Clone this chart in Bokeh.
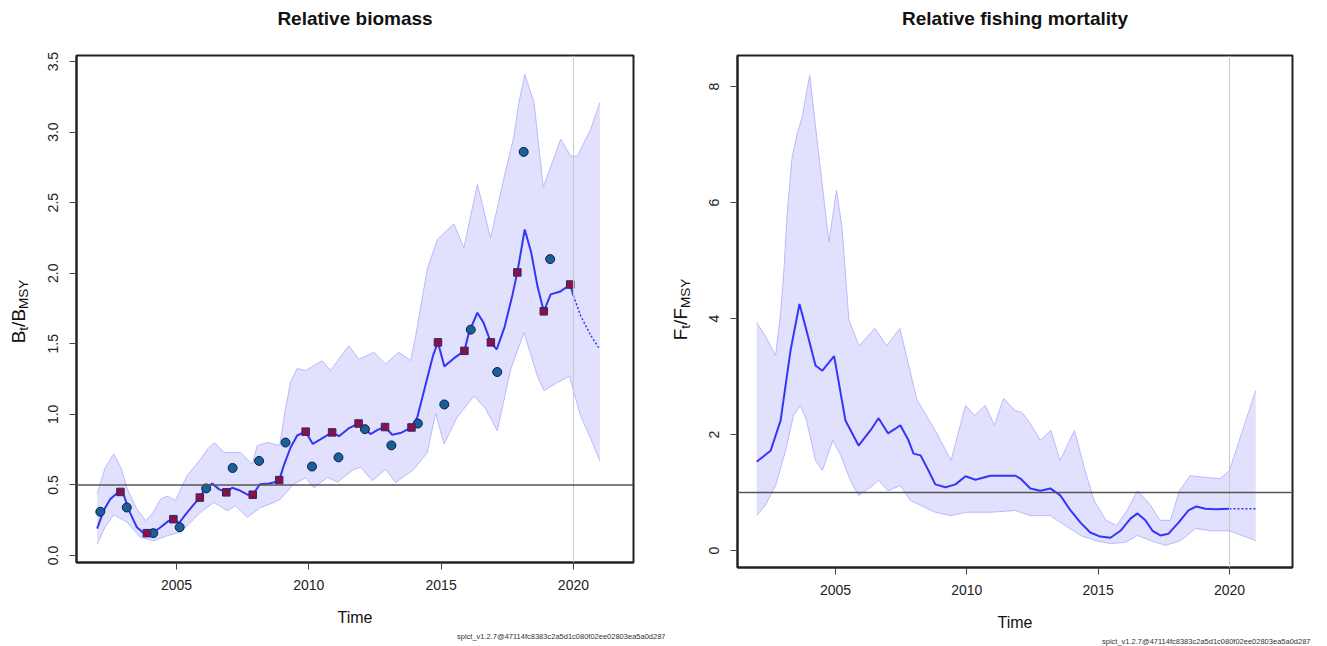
import math
from bokeh.plotting import figure
from bokeh.layouts import row, column
from bokeh.models import Range1d, FixedTicker, PrintfTickFormatter, Span, Title
from bokeh.core.properties import value
from bokeh.embed import file_html
from bokeh.resources import INLINE

FONT = "Liberation Sans"

# ---------------- data: relative biomass ----------------
bio_t = [2002.0, 2002.25, 2002.5, 2002.75, 2002.88, 2003.0, 2003.25, 2003.5, 2003.75, 2003.9,
         2004.1, 2004.4, 2004.7, 2004.9, 2005.1, 2005.3, 2005.6, 2005.88, 2006.1, 2006.35,
         2006.6, 2006.88, 2007.1, 2007.4, 2007.7, 2007.88, 2008.15, 2008.5, 2008.75, 2008.88,
         2009.06, 2009.31, 2009.56, 2009.88, 2010.15, 2010.5, 2010.88, 2011.14, 2011.5, 2011.88,
         2012.1, 2012.33, 2012.6, 2012.88, 2013.15, 2013.5, 2013.88, 2014.1, 2014.4, 2014.7,
         2014.88, 2015.12, 2015.5, 2015.88, 2016.05, 2016.37, 2016.6, 2016.88, 2017.1, 2017.4,
         2017.7, 2017.88, 2018.16, 2018.4, 2018.65, 2018.88, 2019.14, 2019.5, 2019.88, 2020.0]
bio_v = [0.19, 0.32, 0.40, 0.44, 0.45, 0.43, 0.30, 0.20, 0.16, 0.158,
         0.16, 0.20, 0.245, 0.257, 0.23, 0.28, 0.35, 0.41, 0.48, 0.51,
         0.47, 0.447, 0.48, 0.46, 0.43, 0.43, 0.505, 0.51, 0.52, 0.534,
         0.64, 0.765, 0.85, 0.877, 0.79, 0.83, 0.872, 0.845, 0.90, 0.935,
         0.90, 0.86, 0.89, 0.91, 0.855, 0.87, 0.907, 0.98, 1.20, 1.42,
         1.51, 1.34, 1.40, 1.45, 1.58, 1.72, 1.65, 1.51, 1.46, 1.62,
         1.85, 2.006, 2.31, 2.15, 1.90, 1.73, 1.85, 1.87, 1.92, 1.84]
bio_pred_t = [2020.0, 2020.27, 2020.65, 2021.0]
bio_pred_v = [1.84, 1.70, 1.56, 1.46]

bio_up_t = [2002.0, 2002.3, 2002.63, 2002.9, 2003.14, 2003.5, 2003.83, 2004.1, 2004.4, 2004.65,
            2004.96, 2005.4, 2005.9, 2006.2, 2006.44, 2006.79, 2007.1, 2007.42, 2007.86, 2008.05,
            2008.43, 2008.9, 2009.1, 2009.31, 2009.56, 2009.88, 2010.5, 2010.82, 2011.51, 2011.89,
            2012.46, 2012.9, 2013.4, 2013.85, 2014.04, 2014.48, 2014.86, 2015.48, 2015.86, 2016.37,
            2016.87, 2017.37, 2017.75, 2017.94, 2018.16, 2018.51, 2018.86, 2019.52, 2019.9, 2020.15,
            2020.65, 2021.0]
bio_up_v = [0.435, 0.62, 0.72, 0.62, 0.47, 0.33, 0.245, 0.30, 0.40, 0.42,
            0.39, 0.565, 0.68, 0.76, 0.80, 0.73, 0.73, 0.73, 0.647, 0.777,
            0.80, 0.78, 1.02, 1.23, 1.325, 1.31, 1.38, 1.31, 1.486, 1.39,
            1.44, 1.356, 1.44, 1.38, 1.557, 2.03, 2.24, 2.35, 2.18, 2.63,
            2.25, 2.67, 2.97, 3.21, 3.41, 3.21, 2.61, 2.95, 2.83, 2.83,
            3.02, 3.21]
bio_lo_t = [2002.0, 2002.3, 2002.63, 2003.14, 2003.64, 2004.14, 2004.65, 2005.09, 2005.4, 2005.9,
            2006.41, 2006.92, 2007.23, 2007.67, 2008.18, 2008.68, 2008.93, 2009.43, 2009.88, 2010.19,
            2010.7, 2011.08, 2011.7, 2011.96, 2012.4, 2012.9, 2013.28, 2013.97, 2014.48, 2014.79,
            2015.11, 2015.61, 2016.24, 2016.68, 2017.12, 2017.63, 2018.13, 2018.64, 2018.89, 2019.39,
            2019.85, 2020.27, 2020.65, 2021.0]
bio_lo_v = [0.08, 0.20, 0.29, 0.234, 0.128, 0.104, 0.14, 0.163, 0.21, 0.305,
            0.376, 0.317, 0.352, 0.27, 0.34, 0.376, 0.40, 0.505, 0.55, 0.48,
            0.553, 0.52, 0.61, 0.624, 0.53, 0.61, 0.517, 0.61, 0.73, 1.01,
            0.79, 0.98, 1.13, 1.04, 0.884, 1.32, 1.58, 1.27, 1.167, 1.226,
            1.27, 0.99, 0.83, 0.67]

index1_t = [2002.12, 2003.12, 2004.12, 2005.12, 2006.12, 2007.12, 2008.12, 2009.12, 2010.12,
            2011.12, 2012.12, 2013.12, 2014.12, 2015.12, 2016.12, 2017.12, 2018.12, 2019.12]
index1_v = [0.31, 0.34, 0.158, 0.20, 0.475, 0.62, 0.67, 0.80, 0.63,
            0.695, 0.895, 0.78, 0.935, 1.07, 1.60, 1.30, 2.86, 2.10]
index2_t = [2002.88, 2003.88, 2004.88, 2005.88, 2006.88, 2007.88, 2008.88, 2009.88, 2010.88,
            2011.88, 2012.88, 2013.88, 2014.88, 2015.88, 2016.88, 2017.88, 2018.88, 2019.88]
index2_v = [0.45, 0.158, 0.257, 0.41, 0.447, 0.43, 0.534, 0.877, 0.872,
            0.935, 0.91, 0.907, 1.51, 1.45, 1.51, 2.006, 1.73, 1.92]

# ---------------- data: relative fishing mortality ----------------
f_t = [2002.0, 2002.53, 2002.91, 2003.29, 2003.63, 2003.9, 2004.24, 2004.5, 2004.95, 2005.38,
       2005.88, 2006.33, 2006.64, 2007.0, 2007.28, 2007.47, 2007.78, 2007.97, 2008.24, 2008.54,
       2008.8, 2009.19, 2009.57, 2009.95, 2010.33, 2010.9, 2011.28, 2011.85, 2012.04, 2012.42,
       2012.8, 2013.18, 2013.56, 2013.95, 2014.33, 2014.7, 2015.08, 2015.47, 2015.85, 2016.23,
       2016.5, 2016.8, 2017.07, 2017.37, 2017.68, 2018.06, 2018.44, 2018.74, 2019.08, 2019.47,
       2020.0]
f_v = [1.53, 1.72, 2.24, 3.45, 4.25, 3.79, 3.19, 3.10, 3.35, 2.24,
       1.81, 2.07, 2.28, 2.02, 2.10, 2.16, 1.90, 1.67, 1.64, 1.38,
       1.14, 1.09, 1.14, 1.28, 1.22, 1.29, 1.29, 1.29, 1.24, 1.07,
       1.03, 1.07, 0.95, 0.69, 0.48, 0.31, 0.24, 0.22, 0.34, 0.55,
       0.64, 0.52, 0.34, 0.26, 0.29, 0.48, 0.69, 0.76, 0.72, 0.71,
       0.72]
f_pred_t = [2020.0, 2021.0]
f_pred_v = [0.72, 0.72]

f_up_t = [2002.0, 2002.33, 2002.72, 2002.91, 2003.03, 2003.16, 2003.35, 2003.54, 2003.73, 2004.02,
          2004.3, 2004.75, 2005.04, 2005.25, 2005.51, 2005.9, 2006.5, 2006.95, 2007.45, 2008.1,
          2008.8, 2009.4, 2009.95, 2010.3, 2010.7, 2011.05, 2011.4, 2011.85, 2012.1, 2012.4,
          2012.8, 2013.2, 2013.55, 2014.1, 2014.5, 2014.85, 2015.3, 2015.7, 2016.1, 2016.5,
          2017.0, 2017.35, 2017.75, 2018.1, 2018.5, 2019.08, 2019.65, 2020.0, 2021.0]
f_up_v = [3.93, 3.7, 3.36, 4.08, 4.77, 5.8, 6.78, 7.18, 7.47, 8.2,
          7.07, 5.32, 6.21, 5.57, 3.97, 3.53, 3.83, 3.53, 3.83, 2.6,
          2.07, 1.55, 2.5, 2.33, 2.5, 2.16, 2.62, 2.41, 2.38, 2.2,
          1.9, 2.07, 1.55, 2.07, 1.38, 0.86, 0.52, 0.43, 0.69, 1.03,
          0.78, 0.52, 0.52, 1.03, 1.29, 1.26, 1.24, 1.38, 2.76]
f_lo_t = [2002.0, 2002.33, 2002.72, 2003.1, 2003.4, 2003.67, 2003.9, 2004.24, 2004.5, 2004.9,
          2005.2, 2005.57, 2005.88, 2006.33, 2006.64, 2007.0, 2007.47, 2007.85, 2008.24, 2008.8,
          2009.4, 2009.95, 2010.9, 2011.85, 2012.42, 2013.18, 2013.75, 2014.33, 2014.9, 2015.47,
          2016.04, 2016.5, 2017.0, 2017.57, 2018.14, 2018.71, 2019.28, 2020.0, 2021.0]
f_lo_v = [0.6, 0.78, 1.12, 1.72, 2.33, 2.5, 2.24, 1.55, 1.38, 1.9,
          1.64, 1.21, 0.95, 1.09, 1.21, 1.03, 1.12, 0.86, 0.78, 0.66,
          0.6, 0.66, 0.66, 0.69, 0.6, 0.6, 0.43, 0.26, 0.17, 0.12,
          0.14, 0.26, 0.17, 0.09, 0.17, 0.38, 0.34, 0.34, 0.17]

x_ticks = [2005, 2010, 2015, 2020]
bio_ticks = [0.0, 0.5, 1.0, 1.5, 2.0, 2.5, 3.0, 3.5]
f_ticks = [0, 2, 4, 6, 8]
bio_ref = 0.5
f_ref = 1.0
last_year = 2020
titles = ["Relative biomass", "Relative fishing mortality"]
footer = "spict_v1.2.7@47114fc8383c2a5d1c080f02ee02803ea5a0d287"
bio_ylabel = [("B", False), ("t", True), ("/B", False), ("MSY", True)]
f_ylabel = [("F", False), ("t", True), ("/F", False), ("MSY", True)]

BAND_FILL = "#e1e1fd"
BAND_EDGE = "#b9b9ff"
LINE_COL = "#3535fa"
PAGE_W = 1325
HEAD_H = 30                 # header strip holding the two panel titles
FIG_H = 644 - HEAD_H        # height of the panel row
MAIN_FS, SUB_FS = 19, 13.5

# approximate advance widths (em) of Liberation Sans glyphs used in the y labels
ADV = {"B": 0.667, "F": 0.611, "t": 0.278, "/": 0.278, "M": 0.833, "S": 0.667, "Y": 0.667}


def make_fig(xr, yr, fw, fh, bl, br, bt, yticks, yfmt, foot_offset):
    p = figure(frame_width=fw, frame_height=fh, title=None,
               x_range=Range1d(*xr), y_range=Range1d(*yr),
               output_backend="svg", toolbar_location=None,
               min_border_left=bl, min_border_right=br,
               min_border_top=bt, min_border_bottom=FIG_H - bt - fh)
    p.xgrid.visible = False
    p.ygrid.visible = False
    p.background_fill_color = "white"
    p.border_fill_color = "white"
    p.outline_line_color = "#222222"
    p.outline_line_width = 2
    for ax in (p.xaxis[0], p.yaxis[0]):
        ax.axis_line_color = "#222222"
        ax.axis_line_width = 2
        ax.major_tick_line_color = "#444444"
        ax.major_tick_line_width = 1
        ax.major_tick_out = 7
        ax.major_tick_in = 0
        ax.minor_tick_line_color = None
        ax.major_label_text_font = FONT
        ax.major_label_text_font_size = "14px"
        ax.major_label_text_color = "#222222"
    p.xaxis.major_label_standoff = 10
    p.yaxis.major_label_standoff = 11
    p.xaxis.ticker = FixedTicker(ticks=x_ticks)
    p.yaxis.ticker = FixedTicker(ticks=yticks)
    p.yaxis.formatter = PrintfTickFormatter(format=yfmt)
    p.yaxis.major_label_orientation = "parallel"
    p.xaxis.axis_label = "Time"
    p.xaxis.axis_label_text_font = FONT
    p.xaxis.axis_label_text_font_size = "16px"
    p.xaxis.axis_label_text_font_style = "normal"
    p.xaxis.axis_label_text_color = "#111111"
    p.xaxis.axis_label_standoff = 16
    p.add_layout(Title(text=footer, align="right", offset=foot_offset, standoff=2,
                       text_font=FONT, text_font_size="7.5px", text_font_style="normal",
                       text_color="#333333"), "below")
    return p


def band(p, ut, uv, lt, lv):
    xs = list(ut) + list(reversed(lt))
    ys = list(uv) + list(reversed(lv))
    p.patch(xs, ys, fill_color=BAND_FILL, line_color=None)
    p.line(ut, uv, line_color=BAND_EDGE, line_width=1)
    p.line(lt, lv, line_color=BAND_EDGE, line_width=1)


def blank_fig(width, height, top=0, bottom=0):
    q = figure(frame_width=width, frame_height=height,
               x_range=Range1d(0, width), y_range=Range1d(0, height),
               x_axis_type=None, y_axis_type=None, title=None,
               output_backend="svg", toolbar_location=None,
               min_border_left=0, min_border_right=0,
               min_border_top=top, min_border_bottom=bottom)
    q.outline_line_color = None
    q.xgrid.visible = False
    q.ygrid.visible = False
    return q


def label_fig(width, parts, base_x, frame_top, frame_h, center_y):
    """Narrow axis-less figure (frame aligned with the plot frame) holding the
    rotated y-axis label with subscripts.  center_y is in row pixels."""
    q = blank_fig(width, frame_h, frame_top, FIG_H - frame_top - frame_h)
    advs = [sum(ADV[c] for c in text) * (SUB_FS if sub else MAIN_FS) for text, sub in parts]
    y = (frame_top + frame_h - center_y) - sum(advs) / 2
    main = {"x": [], "y": [], "t": []}
    subs = {"x": [], "y": [], "t": []}
    for (text, sub), adv in zip(parts, advs):
        d = subs if sub else main
        d["x"].append(base_x + (5 if sub else 0))
        d["y"].append(y)
        d["t"].append(text)
        y += adv
    for d, fs in ((main, MAIN_FS), (subs, SUB_FS)):
        q.text(x=d["x"], y=d["y"], text=d["t"], angle=math.pi / 2, text_align="left",
               text_baseline="alphabetic", text_font=value(FONT),
               text_font_size=value(f"{fs}px"), text_color="#111111")
    return q


# page layout (x): [label 0-36] [fig1 36-665] [label 665-700] [fig2 700-1325]
# left frame 76-633, right frame 737-1292; header strip 0-30 px high
head = blank_fig(PAGE_W, HEAD_H)
head.text(x=[(76 + 633) / 2, (737 + 1292) / 2], y=[HEAD_H - 18, HEAD_H - 18], text=titles,
          text_align="center", text_baseline="middle", text_font=value(FONT),
          text_font_size=value("19px"), text_font_style="bold", text_color="#111111")

lab1 = label_fig(36, bio_ylabel, 18, 53 - HEAD_H, 507, 309 - HEAD_H)

p1 = make_fig((2001.22, 2022.27), (-0.05, 3.543),
              557, 507, 40, 32, 53 - HEAD_H, bio_ticks, "%.1f", -32)
band(p1, bio_up_t, bio_up_v, bio_lo_t, bio_lo_v)
p1.add_layout(Span(location=last_year, dimension="height", line_color="#c8c8c8", line_width=1))
p1.add_layout(Span(location=bio_ref, dimension="width", line_color="#555555", line_width=1.5))
p1.line(bio_t, bio_v, line_color=LINE_COL, line_width=2)
p1.line(bio_pred_t, bio_pred_v, line_color=LINE_COL, line_width=1.5, line_dash="2 2")
p1.scatter(index1_t, index1_v, marker="circle", size=9, fill_color="#1a5e9c",
           line_color="#0d2240", line_width=1)
p1.scatter(index2_t, index2_v, marker="square", size=7.5, fill_color="#8b1048",
           line_color="#2a2a6a", line_width=1)

lab2 = label_fig(35, f_ylabel, 15, 55 - HEAD_H, 512, 309 - HEAD_H)

p2 = make_fig((2001.27, 2022.40), (-0.293, 8.534),
              555, 512, 37, 33, 55 - HEAD_H, f_ticks, "%d", -18)
band(p2, f_up_t, f_up_v, f_lo_t, f_lo_v)
p2.add_layout(Span(location=last_year, dimension="height", line_color="#c8c8c8", line_width=1))
p2.add_layout(Span(location=f_ref, dimension="width", line_color="#555555", line_width=1.5))
p2.line(f_t, f_v, line_color=LINE_COL, line_width=2)
p2.line(f_pred_t, f_pred_v, line_color=LINE_COL, line_width=1.5, line_dash="2 2")

layout = column(head, row(lab1, p1, lab2, p2))
open("out.html", "w").write(file_html(layout, INLINE))
